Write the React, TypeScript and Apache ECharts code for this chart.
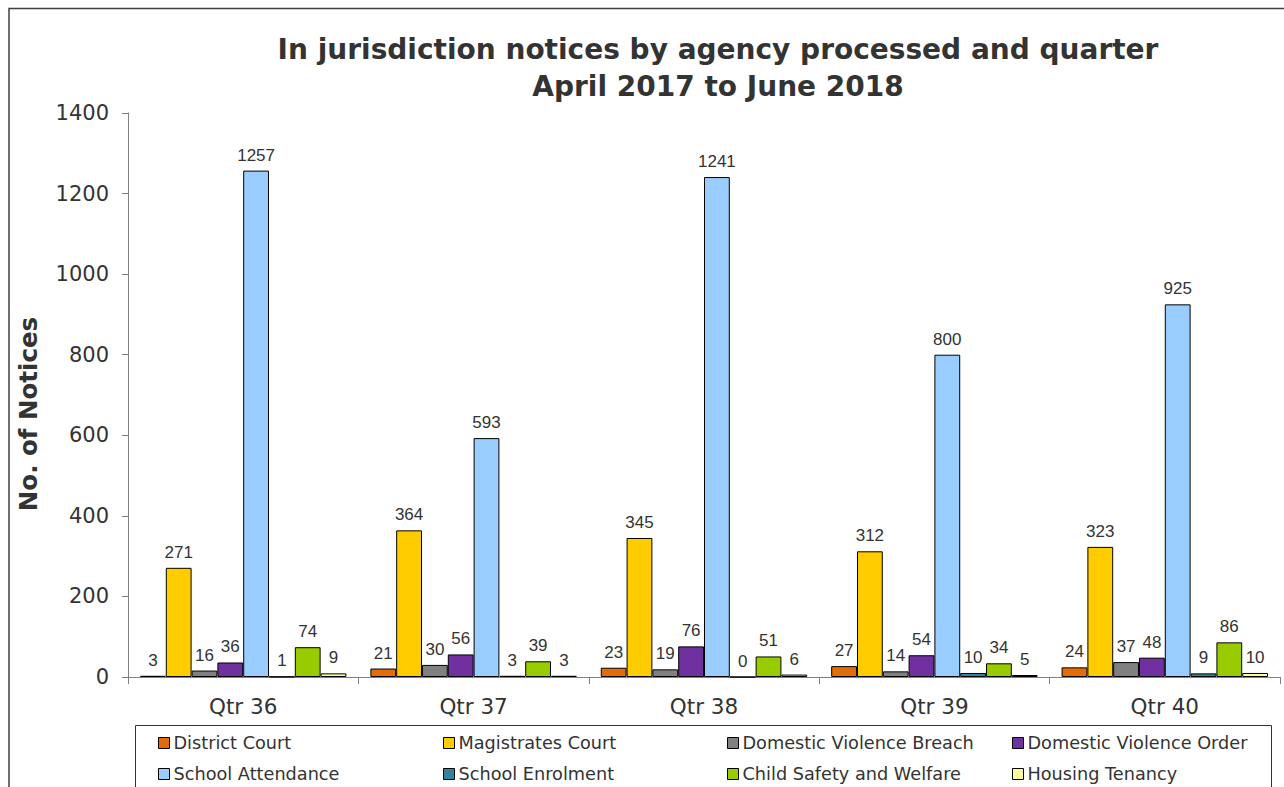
import React, { useEffect, useRef } from "react";
import * as echarts from "echarts";

const categories = ["Qtr 36", "Qtr 37", "Qtr 38", "Qtr 39", "Qtr 40"];
const seriesNames = [
  "District Court",
  "Magistrates Court",
  "Domestic Violence Breach",
  "Domestic Violence Order",
  "School Attendance",
  "School Enrolment",
  "Child Safety and Welfare",
  "Housing Tenancy",
];
const districtCourt = [3, 21, 23, 27, 24];
const magistratesCourt = [271, 364, 345, 312, 323];
const dvBreach = [16, 30, 19, 14, 37];
const dvOrder = [36, 56, 76, 54, 48];
const schoolAttendance = [1257, 593, 1241, 800, 925];
const schoolEnrolment = [1, 3, 0, 10, 9];
const childSafety = [74, 39, 51, 34, 86];
const housingTenancy = [9, 3, 6, 5, 10];
const yTicks = [0, 200, 400, 600, 800, 1000, 1200, 1400];

const seriesData = [
  districtCourt,
  magistratesCourt,
  dvBreach,
  dvOrder,
  schoolAttendance,
  schoolEnrolment,
  childSafety,
  housingTenancy,
];
const colors = [
  "#E36C09",
  "#FFCC00",
  "#808080",
  "#7030A0",
  "#99CCFF",
  "#31849B",
  "#99CC00",
  "#FFFF99",
];

const legendCols = [158, 443, 727, 1012];
const legendRows = [734, 765];

export default function App() {
  const ref = useRef<HTMLDivElement>(null);
  useEffect(() => {
    if (!ref.current) return;
    const chart = echarts.init(ref.current, null, { renderer: "svg" });
    const font = "'DejaVu Sans', Verdana, sans-serif";
    const option: any = {
      animation: false,
      backgroundColor: "#ffffff",
      title: {
        text: "In jurisdiction notices by agency processed and quarter\nApril 2017 to June 2018",
        left: 713,
        textAlign: "center",
        top: 26,
        textStyle: {
          fontFamily: font,
          fontWeight: "bold",
          fontSize: 28,
          color: "#333333",
          lineHeight: 37,
        },
      },
      legend: seriesNames.map((name, i) => ({
        data: [name],
        left: legendCols[i % 4],
        top: legendRows[Math.floor(i / 4)],
        padding: 0,
        itemWidth: 11,
        itemHeight: 11,
        itemGap: 0,
        icon: "rect",
        selectedMode: false,
        textStyle: { fontFamily: font, fontSize: 17.7, color: "#333333", padding: [0, 0, 0, -1] },
        itemStyle: { borderColor: "#000000", borderWidth: 1 },
      })),
      grid: { left: 128, right: 4, top: 113, bottom: 110, containLabel: false },
      xAxis: {
        type: "category",
        data: categories,
        axisLine: { lineStyle: { color: "#808080", width: 1 } },
        axisTick: { show: true, length: 7, lineStyle: { color: "#808080" } },
        axisLabel: { fontFamily: font, fontSize: 21.5, color: "#333333", margin: 18 },
      },
      yAxis: {
        type: "value",
        min: 0,
        max: 1400,
        interval: 200,
        axisLine: { show: true, lineStyle: { color: "#808080", width: 1 } },
        axisTick: { show: true, length: 6, lineStyle: { color: "#808080" } },
        splitLine: { show: false },
        axisLabel: {
          fontFamily: font,
          fontSize: 21,
          color: "#333333",
          margin: 19,
          formatter: (v: number) => (yTicks.includes(v) ? String(v) : ""),
        },
      },
      graphic: [
        {
          type: "rect",
          shape: { x: 9, y: 8.5, width: 1400, height: 900 },
          style: { fill: "none", stroke: "#404040", lineWidth: 1.5 },
          silent: true,
          z: -1,
        },
        {
          type: "rect",
          shape: { x: 135.5, y: 725.5, width: 1136, height: 200 },
          style: { fill: "none", stroke: "#333333", lineWidth: 1 },
          silent: true,
        },
        {
          type: "text",
          x: 28,
          y: 414,
          rotation: Math.PI / 2,
          style: {
            text: "No. of Notices",
            fontFamily: font,
            fontWeight: "bold",
            fontSize: 24.5,
            fill: "#333333",
            textAlign: "center",
            textVerticalAlign: "middle",
          },
        },
      ],
      series: seriesNames.map((name, i) => ({
        name,
        type: "bar",
        data: seriesData[i],
        barGap: "0%",
        barCategoryGap: "10.4%",
        itemStyle: { color: colors[i], borderColor: "#000000", borderWidth: 1 },
        label: {
          show: true,
          position: "top",
          distance: 7,
          fontFamily: "'Liberation Sans', Arial, sans-serif",
          fontSize: 17,
          color: "#333333",
        },
      })),
    };
    chart.setOption(option);
    return () => chart.dispose();
  }, []);
  return (
    <div
      ref={ref}
      style={{ position: "fixed", left: 0, top: 0, width: 1284, height: 787 }}
    />
  );
}
